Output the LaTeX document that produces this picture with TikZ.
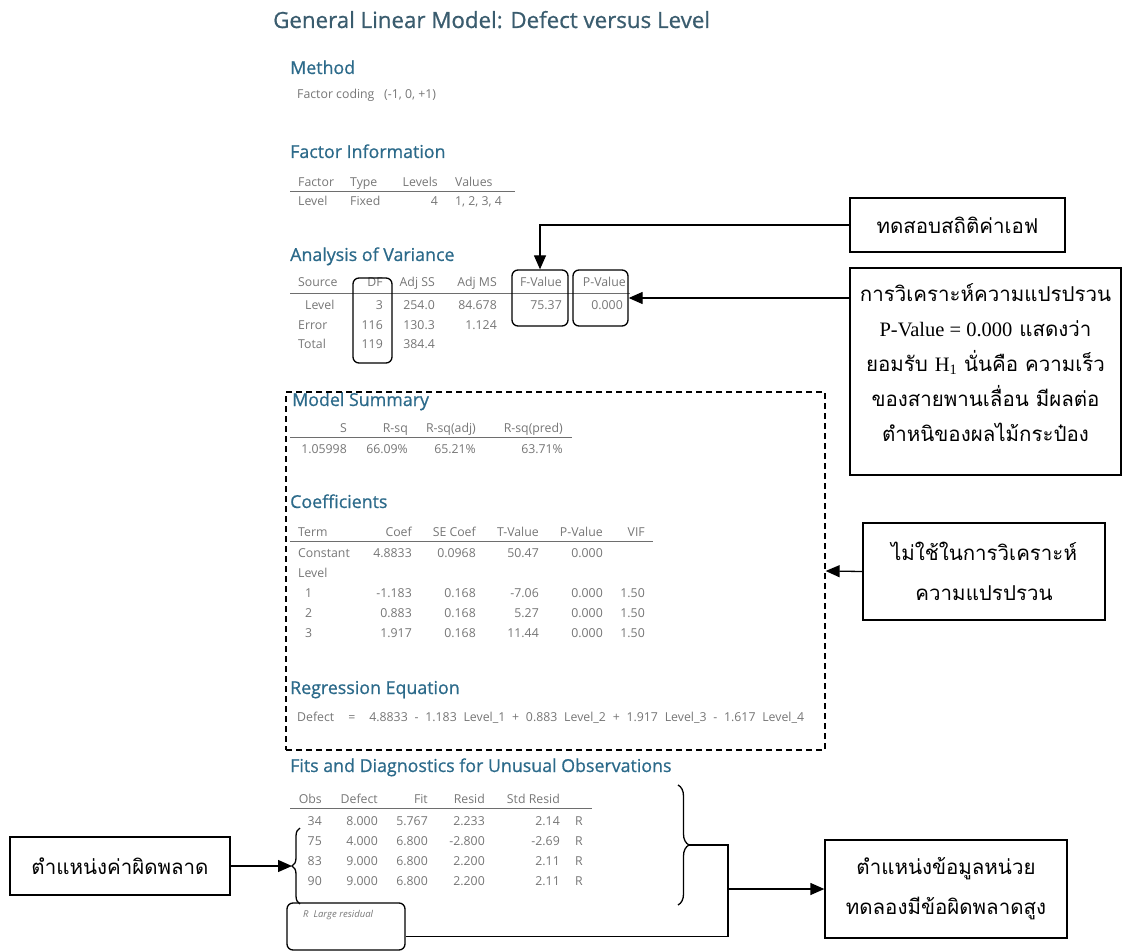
\documentclass[tikz,border=0pt]{standalone}
\usepackage{fontspec}
\setmainfont{Open Sans}
\newfontfamily\semifont[FakeBold=0.8]{Open Sans}
\newfontfamily\thaifont[Script=Thai]{Loma}
\newfontfamily\serifnum{Liberation Serif}
\usetikzlibrary{arrows.meta,decorations.pathreplacing,positioning}

\definecolor{headblue}{RGB}{44,106,138}
\definecolor{titleblue}{RGB}{58,92,110}
\definecolor{tabgray}{RGB}{118,118,118}
\definecolor{rulegray}{RGB}{110,110,110}

\newcommand{\lat}[1]{{\serifnum #1}}

\tikzset{
  head/.style={anchor=base west, inner sep=0pt, text=headblue, font=\semifont\fontsize{17.8}{17.8}\selectfont},
  tab/.style={anchor=base east, inner sep=0pt, text=tabgray, font=\fontsize{12.3}{12.3}\selectfont},
  tabl/.style={tab, anchor=base west},
  rule/.style={draw=rulegray, line width=0.7pt},
  note/.style={draw, line width=1.3pt, align=center, inner sep=0pt, font=\thaifont\fontsize{20.5}{35}\selectfont},
  notetext/.style={align=center, inner sep=0pt, font=\thaifont\fontsize{20.5}{35}\selectfont},
  hilite/.style={draw, rounded corners=6pt, line width=1.3pt},
  link/.style={line width=1.3pt, -{Triangle[length=14pt,width=12pt]}},
  bracket/.style={line width=1.3pt, decorate},
}

\begin{document}
\begin{tikzpicture}[x=1pt,y=-1pt]
\useasboundingbox (0,0) rectangle (1122,952);

% minitab output
\node[head, text=titleblue, font=\semifont\fontsize{22.3}{22.3}\selectfont] (title) at (273,28) {General Linear Model: Defect versus Level};

\node[head] (method) at (290,74) {Method};
\node[tabl] (coding) at (297,99) {Factor coding};
\node[tabl] (codes) at (384,99) {(-1, 0, +1)};

\node[head] (finfo) at (290,158) {Factor Information};
\foreach \n/\x/\t in {1/298/Factor, 2/350/Type, 4/455/Values}
  \node[tabl] (fi-0-\n) at (\x,187) {\t};
\node[tab] (fi-0-3) at (438,187) {Levels};
\draw[rule] (290,191) -- (515,191);
\foreach \n/\x/\t in {1/298/Level, 2/350/Fixed, 4/455/{1, 2, 3, 4}}
  \node[tabl] (fi-1-\n) at (\x,206) {\t};
\node[tab] (fi-1-3) at (438,206) {4};

\node[head] (anova) at (290,261) {Analysis of Variance};
\node[tabl] (av-0-1) at (298,287) {Source};
\foreach \n/\x/\t in {2/383/DF, 3/435/Adj SS, 4/497/Adj MS, 5/562/F-Value, 6/626/P-Value}
  \node[tab] (av-0-\n) at (\x,287) {\t};
\draw[rule] (290,293) -- (630,293);
\node[tabl] (av-1-1) at (305,309) {Level};
\foreach \n/\x/\t in {2/383/3, 3/435/254.0, 4/497/84.678, 5/562/75.37, 6/623/0.000}
  \node[tab] (av-1-\n) at (\x,309) {\t};
\node[tabl] (av-2-1) at (298,329) {Error};
\foreach \n/\x/\t in {2/383/116, 3/435/130.3, 4/497/1.124}
  \node[tab] (av-2-\n) at (\x,329) {\t};
\node[tabl] (av-3-1) at (298,348) {Total};
\foreach \n/\x/\t in {2/383/119, 3/435/384.4}
  \node[tab] (av-3-\n) at (\x,348) {\t};

\node[hilite, minimum width=39pt, minimum height=85pt] (dfbox) at (372.5,320.5) {};
\node[hilite, minimum width=56pt, minimum height=56pt] (fbox) at (540,298) {};
\node[hilite, minimum width=55pt, minimum height=56pt] (pbox) at (600.5,298) {};

\node[head] (msum) at (292,406) {Model Summary};
\foreach \n/\x/\t in {1/347/S, 2/408/R-sq, 3/476/R-sq(adj), 4/563/R-sq(pred)}
  \node[tab] (ms-0-\n) at (\x,432) {\t};
\draw[rule] (290,437) -- (572,437);
\foreach \n/\x/\t in {1/347/1.05998, 2/408/66.09\%, 3/476/65.21\%, 4/563/63.71\%}
  \node[tab] (ms-1-\n) at (\x,453) {\t};

\node[head] (coef) at (290,508) {Coefficients};
\node[tabl] (cf-0-1) at (298,536) {Term};
\foreach \n/\x/\t in {2/412/Coef, 3/476/SE Coef, 4/539/T-Value, 5/603/P-Value, 6/645/VIF}
  \node[tab] (cf-0-\n) at (\x,536) {\t};
\draw[rule] (290,541) -- (653,541);
\node[tabl] (cf-1-1) at (298,557) {Constant};
\foreach \n/\x/\t in {2/412/4.8833, 3/476/0.0968, 4/539/50.47, 5/603/0.000}
  \node[tab] (cf-1-\n) at (\x,557) {\t};
\node[tabl] (cf-2-1) at (298,577) {Level};
\node[tabl] (cf-3-1) at (305,597) {1};
\foreach \n/\x/\t in {2/412/-1.183, 3/476/0.168, 4/539/-7.06, 5/603/0.000, 6/645/1.50}
  \node[tab] (cf-3-\n) at (\x,597) {\t};
\node[tabl] (cf-4-1) at (305,617) {2};
\foreach \n/\x/\t in {2/412/0.883, 3/476/0.168, 4/539/5.27, 5/603/0.000, 6/645/1.50}
  \node[tab] (cf-4-\n) at (\x,617) {\t};
\node[tabl] (cf-5-1) at (305,637) {3};
\foreach \n/\x/\t in {2/412/1.917, 3/476/0.168, 4/539/11.44, 5/603/0.000, 6/645/1.50}
  \node[tab] (cf-5-\n) at (\x,637) {\t};

\node[head] (regeq) at (290,694) {Regression Equation};
\node[tabl] (eq) at (297,721) {\spaceskip=6.8pt Defect\hspace{14pt}=\hspace{14pt}4.8833 - 1.183 Level\_1 + 0.883 Level\_2 + 1.917 Level\_3 - 1.617 Level\_4};

\node[draw, line width=1.3pt, dash pattern=on 6pt off 4pt, minimum width=539pt, minimum height=358pt] (unused) at (555.5,571) {};

\node[head] (fits) at (290,772) {Fits and Diagnostics for Unusual Observations};
\foreach \n/\x/\t in {1/322/Obs, 2/378/Defect, 3/428/Fit, 4/485/Resid, 5/560/Std Resid}
  \node[tab] (ft-0-\n) at (\x,803) {\t};
\draw[rule] (290,808) -- (592,808);
\foreach \r/\y/\o/\d/\f/\e/\s in {1/825/34/8.000/5.767/2.233/2.14, 2/845/75/4.000/6.800/-2.800/-2.69,
    3/865/83/9.000/6.800/2.200/2.11, 4/885/90/9.000/6.800/2.200/2.11} {
  \node[tab] (ft-\r-1) at (322,\y) {\o};
  \node[tab] (ft-\r-2) at (378,\y) {\d};
  \node[tab] (ft-\r-3) at (428,\y) {\f};
  \node[tab] (ft-\r-4) at (485,\y) {\e};
  \node[tab] (ft-\r-5) at (560,\y) {\s};
  \node[tabl] (ft-\r-6) at (575,\y) {R};
}
\node[tabl, font=\itshape\fontsize{9.5}{9.5}\selectfont] (large) at (303,917) {R\ \ Large residual};
\node[hilite, minimum width=118pt, minimum height=47pt] (resid) at (346,926.5) {};

% annotations
\node[note, minimum width=215pt, minimum height=54pt] (ftest) at (957.5,225) {ทดสอบสถิติค่าเอฟ};
\node[note, minimum width=271pt, minimum height=207pt] (pnote) at (985.5,371.5) {};
\node[notetext] (pnote-t) at ([yshift=9pt]pnote.center)
  {การวิเคราะห์ความแปรปรวน\\ \lat{P-Value = 0.000} แสดงว่า\\ ยอมรับ \lat{H\textsubscript{1}} นั่นคือ ความเร็ว\\ ของสายพานเลื่อน มีผลต่อ\\ ตำหนิของผลไม้กระป๋อง};
\node[note, minimum width=242pt, minimum height=97pt, font=\thaifont\fontsize{20.5}{40}\selectfont] (notused) at (984,571.5) {ไม่ใช้ในการวิเคราะห์\\ ความแปรปรวน};
\node[note, minimum width=242pt, minimum height=98pt, font=\thaifont\fontsize{20.5}{40}\selectfont] (outliers) at (946,889) {ตำแหน่งข้อมูลหน่วย\\ ทดลองมีข้อผิดพลาดสูง};
\node[note, minimum width=220pt, minimum height=58pt] (errpos) at (120,866) {ตำแหน่งค่าผิดพลาด};

\draw[bracket, decoration={brace, amplitude=8pt}] (300,904) -- (300,828);
\coordinate (ltip) at (292,866);
\draw[bracket, decoration={brace, amplitude=11pt}] (678,785) -- (678,905);
\coordinate (rtip) at (689,845);
\coordinate (bend) at (728,845);

\draw[link] (ftest.west) -| (fbox.north);
\draw[link] (pbox.east -| pnote.west) -- (pbox.east);
\draw[link] (notused.west) -- (unused.east);
\draw[link] (errpos.east) -- (ltip);
\draw[line width=1.3pt] ([yshift=-10pt]resid.east) -| (bend) -- (rtip);
\draw[link] (bend |- outliers.west) -- (outliers.west);
\end{tikzpicture}
\end{document}
